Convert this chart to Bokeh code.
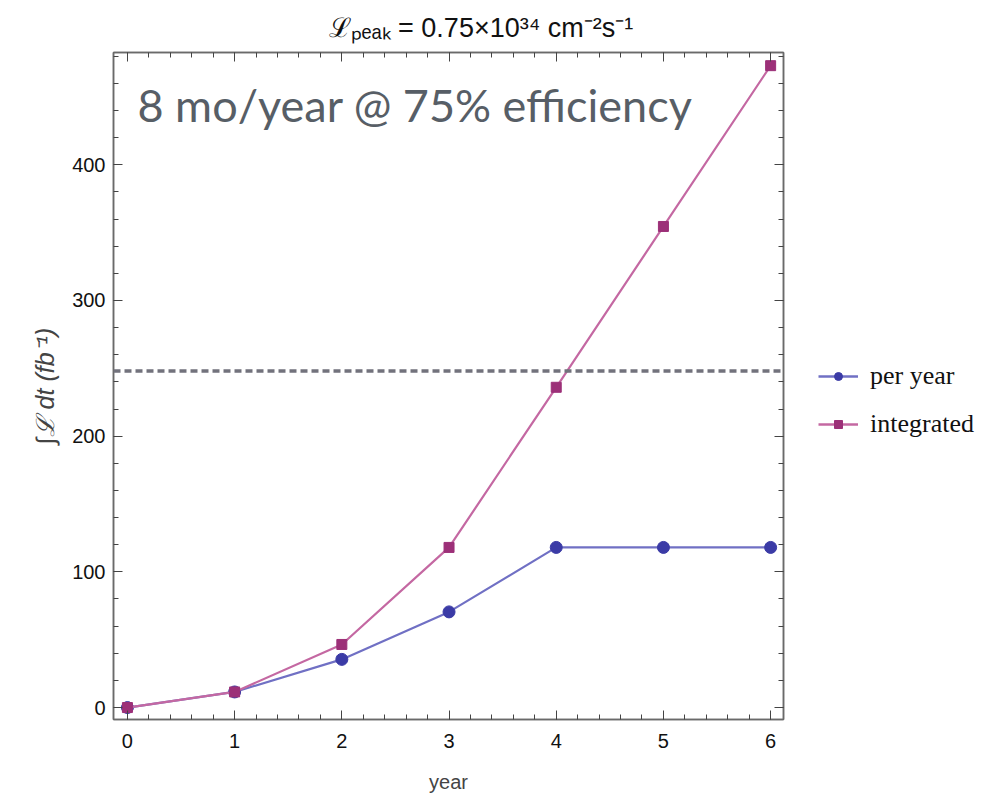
from bokeh.plotting import figure
from bokeh.layouts import row
from bokeh.models import (Range1d, LinearAxis, Legend, LegendItem, Span, Label,
                          FixedTicker, ColumnDataSource)
from bokeh.embed import file_html
from bokeh.resources import INLINE

years = [0, 1, 2, 3, 4, 5, 6]
per_year = [0, 11.5, 35.5, 70.5, 118, 118, 118]
integrated = [0, 11.5, 46.5, 118, 236, 354.5, 473]
threshold = 248
x_ticks = [0, 1, 2, 3, 4, 5, 6]
y_ticks = [0, 100, 200, 300, 400]
series_names = ["per year", "integrated"]

BLUE_LINE, BLUE_PT = "#7070c4", "#3b3ba6"
PURP_LINE, PURP_PT = "#c468a2", "#9c3078"

p = figure(frame_width=670, frame_height=667, output_backend="svg",
           toolbar_location=None, x_range=Range1d(-0.13, 6.12),
           y_range=Range1d(-8.8, 482.7),
           min_border_left=113, min_border_right=10, min_border_top=52,
           min_border_bottom=60, background_fill_color="white",
           border_fill_color="white")
p.grid.visible = False
p.outline_line_color = "#6a6a6a"
p.outline_line_width = 1.5

p.title.text = "ℒₚₑₐₖ = 0.75×10³⁴ cm⁻²s⁻¹"
p.title.text_font = "Liberation Sans"
p.title.text_font_size = "27px"
p.title.text_font_style = "normal"
p.title.align = "left"
p.title.offset = 215
p.title.text_color = "#111111"
p.title.standoff = 20

def style_axis(ax, labels=True, ticks=None):
    ax.axis_line_color = "#6a6a6a"
    ax.axis_line_width = 1.5
    ax.major_tick_in = 9
    ax.major_tick_out = 0
    ax.minor_tick_in = 5
    ax.minor_tick_out = 0
    ax.major_tick_line_color = "#444444"
    ax.minor_tick_line_color = "#444444"
    ax.major_label_text_font = "Liberation Sans"
    ax.major_label_text_font_size = "20px"
    ax.major_label_text_color = "#111111"
    if not labels:
        ax.major_label_overrides = {t: "" for t in ticks}
        ax.major_label_standoff = 0

xt = FixedTicker(ticks=x_ticks, minor_ticks=[i / 5 for i in range(0, 31)])
yt = FixedTicker(ticks=y_ticks, minor_ticks=list(range(-20, 481, 20)))

p.xaxis.ticker = xt
p.yaxis.ticker = yt
style_axis(p.xaxis[0])
style_axis(p.yaxis[0])
p.xaxis.axis_label = "year"
p.xaxis.axis_label_text_font = "Liberation Sans"
p.xaxis.axis_label_text_font_size = "20px"
p.xaxis.axis_label_text_font_style = "normal"
p.xaxis.axis_label_standoff = 20
p.yaxis.axis_label = "∫ℒ dt (fb⁻¹)"
p.yaxis.axis_label_text_font = "Liberation Sans"
p.yaxis.axis_label_text_font_size = "25px"
p.yaxis.axis_label_text_font_style = "italic"
p.yaxis.axis_label_standoff = 10
p.yaxis.major_label_standoff = 8
p.xaxis.major_label_standoff = 14

top = LinearAxis(ticker=xt)
style_axis(top, labels=False, ticks=x_ticks)
p.add_layout(top, "above")
right = LinearAxis(ticker=yt)
style_axis(right, labels=False, ticks=y_ticks)
p.add_layout(right, "right")

p.add_layout(Span(location=threshold, dimension="width", line_color="#72727c",
                  line_width=3.5, line_dash="7 4"))

src = ColumnDataSource(dict(x=years, a=per_year, b=integrated))
l1 = p.line("x", "a", source=src, line_color=BLUE_LINE, line_width=2.2)
m1 = p.scatter("x", "a", source=src, marker="circle", size=12,
               fill_color=BLUE_PT, line_color=BLUE_PT)
l2 = p.line("x", "b", source=src, line_color=PURP_LINE, line_width=2.2)
m2 = p.scatter("x", "b", source=src, marker="square", size=10,
               fill_color=PURP_PT, line_color=PURP_PT)

p.add_layout(Label(x=24, y=615, x_units="screen", y_units="screen",
                   text="8 mo/year @ 75% efficiency", text_font="Lato",
                   text_font_size="45px", text_color="#575e66",
                   text_baseline="middle"))

# legend panel (separate figure to the right of the plot); its glyphs reuse
# the series data but lie outside this panel's view
q = figure(width=195, height=780, output_backend="svg", toolbar_location=None,
           x_range=Range1d(1000, 1001), y_range=Range1d(1000, 1001), min_border=0,
           background_fill_color="white", border_fill_color="white")
q.axis.visible = False
q.grid.visible = False
q.outline_line_color = None
k1 = q.line("x", "a", source=src, line_color=BLUE_LINE, line_width=2.5)
n1 = q.scatter("x", "a", source=src, marker="circle", size=12,
               fill_color=BLUE_PT, line_color=BLUE_PT)
k2 = q.line("x", "b", source=src, line_color=PURP_LINE, line_width=2.5)
n2 = q.scatter("x", "b", source=src, marker="square", size=10,
               fill_color=PURP_PT, line_color=PURP_PT)
legend = Legend(items=[LegendItem(label=series_names[0], renderers=[k1, n1]),
                       LegendItem(label=series_names[1], renderers=[k2, n2])],
                location=(25, 265), label_text_font="Liberation Serif",
                label_text_font_size="26px", label_text_color="#111111",
                border_line_color=None, background_fill_alpha=0,
                glyph_width=40, label_height=30, spacing=18,
                label_standoff=12, padding=0, margin=0)
q.add_layout(legend)

open("out.html", "w").write(file_html(row(p, q), INLINE))
